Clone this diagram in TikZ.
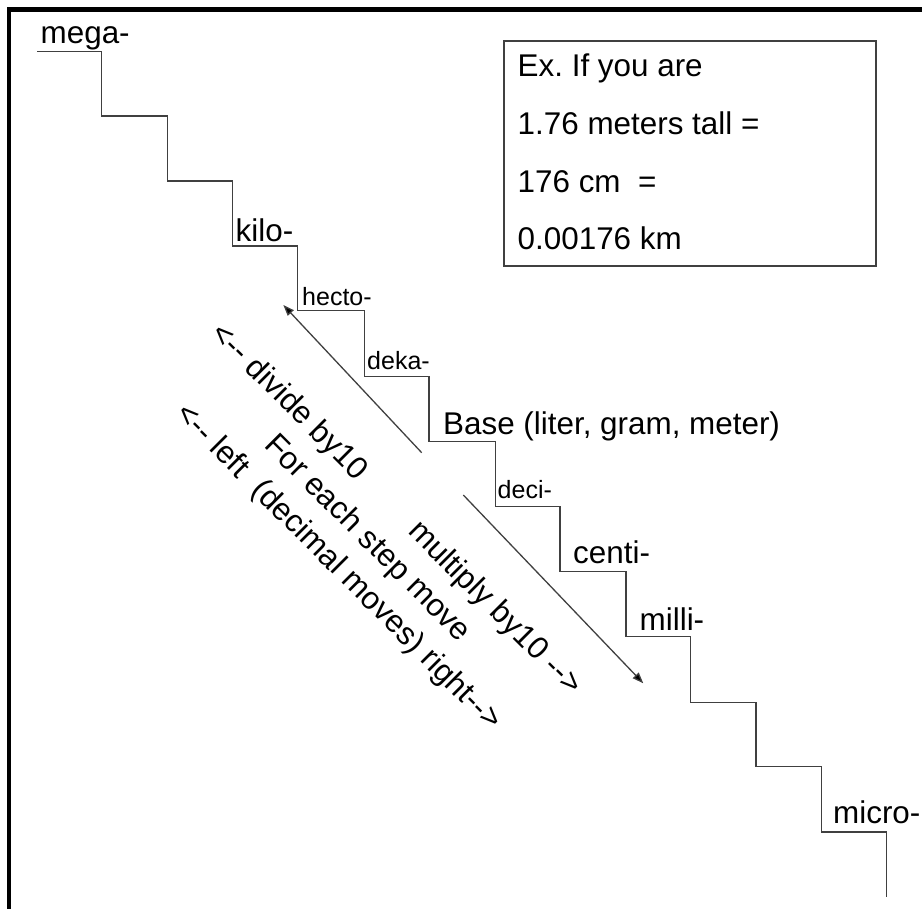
\documentclass[tikz,border=0pt]{standalone}
\usepackage{fontspec}
\setmainfont{Liberation Sans}
\usetikzlibrary{arrows.meta}
\definecolor{stairgray}{HTML}{404040}
\frenchspacing
\begin{document}
\begin{tikzpicture}[x=1pt,y=-1pt,
  big/.style={font=\fontsize{31.4}{36}\selectfont, inner sep=0pt, anchor=base west},
  small/.style={font=\fontsize{25}{29}\selectfont, inner sep=0pt, anchor=base west},
  stair/.style={draw=stairgray, line width=1.5pt, line join=miter},
  conv/.style={draw=stairgray, line width=1.3pt, -{Triangle[length=11pt,width=8pt,fill=black]}},
  frameline/.style={draw=black, line width=4.3pt},
  boxline/.style={draw=stairgray, line width=2pt}]
\useasboundingbox (0,0) rectangle (922,909);
% outer frame (only top and left visible)
\draw[frameline] (9.3,920) -- (9.3,9.5) -- (935,9.5);
% staircase
\draw[stair] (37,51.7) -- (101.7,51.7) -- (101.7,116) -- (167.7,116) -- (167.7,181)
  -- (232.7,181) -- (232.7,246) -- (297.7,246) -- (297.7,310.7) -- (364.3,310.7)
  -- (364.3,376.7) -- (429,376.7) -- (429,441.7) -- (495.7,441.7) -- (495.7,506.7)
  -- (560,506.7) -- (560,571.7) -- (626,571.7) -- (626,636.7) -- (690.7,636.7)
  -- (690.7,702.7) -- (756,702.7) -- (756,766.7) -- (821.7,766.7) -- (821.7,832)
  -- (886.7,832) -- (886.7,896.7);
% step labels
\node[big] (mega) at (40.5,43.5) {mega-};
\node[big] (kilo) at (235.5,241.7) {kilo-};
\node[small] (hecto) at (302,306) {hecto-};
\node[small] (deka) at (367,370) {deka-};
\node[big] (base) at (443,435) {Base (liter, gram, meter)};
\node[small] (deci) at (497.5,498.3) {deci-};
\node[big] (centi) at (573,563.3) {centi-};
\node[big] (milli) at (639.5,630) {milli-};
\node[big] (micro) at (833,823.3) {micro-};
% example box
\draw[boxline] (504,41) rectangle (876,266);
\node[big] (ex1) at (517.5,76.7) {Ex. If you are};
\node[big] (ex2) at (517.5,135) {1.76 meters tall =};
\node[big] (ex3) at (517.5,192.7) {176 cm\ \ =};
\node[big] (ex4) at (517.5,250) {0.00176 km};
% arrows
\coordinate (upTail) at (421.7,452.7);
\coordinate (upTip) at (283.3,305);
\coordinate (dnTail) at (463.3,495);
\coordinate (dnTip) at (643.3,683.3);
\draw[conv] (upTail) -- (upTip);
\draw[conv] (dnTail) -- (dnTip);
% rotated rule text
\node[rotate=-45, align=center, inner sep=0pt, font=\fontsize{31.4}{41}\selectfont] (rule) at (367,539)
  {<-{}- divide by10\hspace{72pt}multiply by10 -{}->\\
   For each step move\\
   <-{}- left\ \ (decimal moves) right-{}->};
\end{tikzpicture}
\end{document}
